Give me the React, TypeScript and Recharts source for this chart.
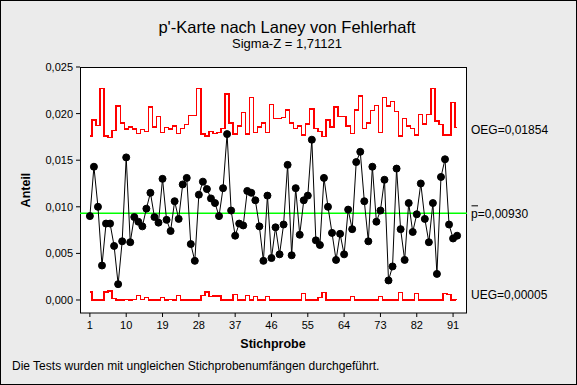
import React from "react";
import { ComposedChart, Line, XAxis, YAxis, ReferenceLine } from "recharts";

// Anteil fehlerhaft je Stichprobe
const P_VALUES = [
  0.0090, 0.0143, 0.0100, 0.0037, 0.0082, 0.0082, 0.0058, 0.0017, 0.0063, 0.0153,
  0.0062, 0.0089, 0.0084, 0.0079, 0.0098, 0.0115, 0.0089, 0.0083, 0.0130, 0.0086,
  0.0074, 0.0106, 0.0087, 0.0124, 0.0131, 0.0060, 0.0042, 0.0113, 0.0127, 0.0119,
  0.0109, 0.0104, 0.0090, 0.0120, 0.0178, 0.0096, 0.0069, 0.0082, 0.0080, 0.0117,
  0.0115, 0.0107, 0.0079, 0.0042, 0.0112, 0.0045, 0.0078, 0.0049, 0.0081, 0.0145,
  0.0048, 0.0120, 0.0070, 0.0107, 0.0112, 0.0172, 0.0064, 0.0059, 0.0131, 0.0100,
  0.0072, 0.0043, 0.0071, 0.0049, 0.0097, 0.0076, 0.0148, 0.0159, 0.0106, 0.0063,
  0.0143, 0.0084, 0.0096, 0.0129, 0.0021, 0.0036, 0.0141, 0.0076, 0.0043, 0.0104,
  0.0073, 0.0092, 0.0125, 0.0087, 0.0062, 0.0104, 0.0028, 0.0132, 0.0151, 0.0081,
  0.0066, 0.0069,
];

// obere Eingriffsgrenze je Stichprobe
const OEG = [
  0.0176, 0.0193, 0.0187, 0.0227, 0.0176, 0.01745, 0.0182, 0.0208, 0.0190, 0.01835,
  0.01856, 0.01835, 0.0179, 0.0183, 0.0181, 0.0207, 0.01856, 0.0197, 0.0180, 0.01853,
  0.01835, 0.01867, 0.0179, 0.0184, 0.0188, 0.0198, 0.0198, 0.0227, 0.0178, 0.0176,
  0.0181, 0.0179, 0.0180, 0.0184, 0.0221, 0.0190, 0.0178, 0.01867, 0.0201, 0.0178,
  0.0217, 0.0180, 0.01856, 0.0190, 0.0180, 0.0210, 0.0195, 0.0195, 0.0196, 0.0204,
  0.0190, 0.0184, 0.01867, 0.0177, 0.0189, 0.0205, 0.0184, 0.0181, 0.01756, 0.0193,
  0.01856, 0.0207, 0.0197, 0.0197, 0.01867, 0.0179, 0.0204, 0.0219, 0.0184, 0.0190,
  0.0203, 0.0209, 0.0180, 0.0217, 0.0208, 0.0213, 0.0202, 0.0176, 0.0195, 0.01867,
  0.0184, 0.0177, 0.0199, 0.0189, 0.0199, 0.0227, 0.0192, 0.0188, 0.0177, 0.0177,
  0.0212, 0.01854,
];

// untere Eingriffsgrenze je Stichprobe
const UEG = [
  0.00086, 0, 0, 0, 0.00086, 0.00097, 0.00018, 0, 0, 0.00007,
  0, 0.00007, 0.0005, 0.00007, 0.00029, 0, 0, 0, 0.00029, 0,
  0.00007, 0, 0.0005, 0, 0, 0, 0, 0, 0.0005, 0.00086,
  0.00039, 0.00043, 0.00043, 0, 0, 0, 0.00061, 0, 0, 0.0005,
  0, 0.00039, 0, 0, 0.00039, 0, 0, 0, 0, 0,
  0, 0, 0, 0.00072, 0, 0, 0, 0.00029, 0.00082, 0,
  0, 0, 0, 0, 0, 0.00039, 0, 0, 0, 0,
  0, 0, 0.00039, 0, 0, 0, 0, 0.00082, 0, 0,
  0, 0.00072, 0, 0, 0, 0, 0, 0, 0.00072, 0.00061,
  0, 0.00005,
];

const P_BAR = 0.0093;
const OEG_LAST = 0.01854;
const UEG_LAST = 0.00005;
const X_TICKS = [1, 10, 19, 28, 37, 46, 55, 64, 73, 82, 91];
const Y_TICKS = [0, 0.005, 0.01, 0.015, 0.02, 0.025];

const FONT = '"Liberation Sans", Arial, sans-serif';

const data = P_VALUES.map((p, i) => ({ n: i + 1, p, oeg: OEG[i], ueg: UEG[i] }));

const sideLabel = (text: string, dy: number, bar = false) => (props: any) => {
  const vb = props.viewBox || {};
  const x = (vb.x ?? 0) + (vb.width ?? 0) + 4;
  const y = (vb.y ?? 0) + dy;
  return (
    <g>
      <text x={x} y={y} dominantBaseline="central" fontSize={12} fontFamily={FONT} fill="#000">
        {text}
      </text>
      {bar && <line x1={x + 0.5} x2={x + 7} y1={y - 8.5} y2={y - 8.5} stroke="#000" strokeWidth={1} />}
    </g>
  );
};

export default function App() {
  return (
    <div
      style={{
        position: "absolute",
        left: 0,
        top: 0,
        width: 577,
        height: 385,
        background: "#ebebeb",
        fontFamily: FONT,
      }}
    >
      {/* Rahmen, Titel, Achsentitel, Fußnote */}
      <svg width={577} height={385} style={{ position: "absolute", left: 0, top: 0 }}>
        <rect x={0.5} y={0.5} width={576} height={384} fill="none" stroke="#000" />
        <rect x={80.5} y={67.5} width={386} height={245.5} fill="#fff" stroke="#000" />
        <text x={287} y={33} textAnchor="middle" fontSize={16.5} fontFamily={FONT} fill="#000">
          p'-Karte nach Laney von Fehlerhaft
        </text>
        <text x={287} y={48} textAnchor="middle" fontSize={13} fontFamily={FONT} fill="#000">
          Sigma-Z = 1,71121
        </text>
        <text x={273} y={348} textAnchor="middle" fontSize={12.5} fontWeight="bold" fontFamily={FONT} fill="#000">
          Stichprobe
        </text>
        <text
          x={30}
          y={190}
          textAnchor="middle"
          fontSize={12.5}
          fontWeight="bold"
          fontFamily={FONT}
          fill="#000"
          transform="rotate(-90 30 190)"
        >
          Anteil
        </text>
        <text x={12} y={370} fontSize={12} fontFamily={FONT} fill="#000">
          Die Tests wurden mit ungleichen Stichprobenumfängen durchgeführt.
        </text>
      </svg>
      <div style={{ position: "absolute", left: 0, top: 0 }}>
        <ComposedChart width={577} height={385} data={data} margin={{ top: 67, right: 110, bottom: 42, left: 0 }}>
          <XAxis
            dataKey="n"
            type="number"
            domain={[-1.45, 94.45]}
            ticks={X_TICKS}
            allowDataOverflow
            height={30}
            axisLine={false}
            tickSize={4}
            tickMargin={4}
            tickLine={{ stroke: "#000" }}
            tick={{ fontSize: 11, fill: "#000", fontFamily: FONT }}
          />
          <YAxis
            type="number"
            domain={[-0.001395, 0.025]}
            ticks={Y_TICKS}
            allowDataOverflow
            width={80}
            axisLine={false}
            tickSize={4}
            tickMargin={3}
            tickLine={{ stroke: "#000" }}
            tick={{ fontSize: 11, fill: "#000", fontFamily: FONT }}
            tickFormatter={(v: number) => v.toFixed(3).replace(".", ",")}
          />
          <ReferenceLine
            y={P_BAR}
            stroke="#00ff00"
            strokeWidth={1.6}
            strokeOpacity={1}
            label={sideLabel("p=0,00930", 1, true)}
          />
          <ReferenceLine y={OEG_LAST} stroke="none" label={sideLabel("OEG=0,01854", 3)} />
          <ReferenceLine y={UEG_LAST} stroke="none" label={sideLabel("UEG=0,00005", -5)} />
          <Line
            type="step"
            dataKey="oeg"
            stroke="#ff0000"
            strokeWidth={1.3}
            shapeRendering="crispEdges"
            dot={false}
            isAnimationActive={false}
          />
          <Line
            type="step"
            dataKey="ueg"
            stroke="#ff0000"
            strokeWidth={1.3}
            shapeRendering="crispEdges"
            dot={false}
            isAnimationActive={false}
          />
          <Line
            type="linear"
            dataKey="p"
            stroke="#000"
            strokeWidth={1}
            dot={{ r: 3.5, fill: "#000", stroke: "#000", strokeWidth: 1 }}
            isAnimationActive={false}
          />
        </ComposedChart>
      </div>
    </div>
  );
}
